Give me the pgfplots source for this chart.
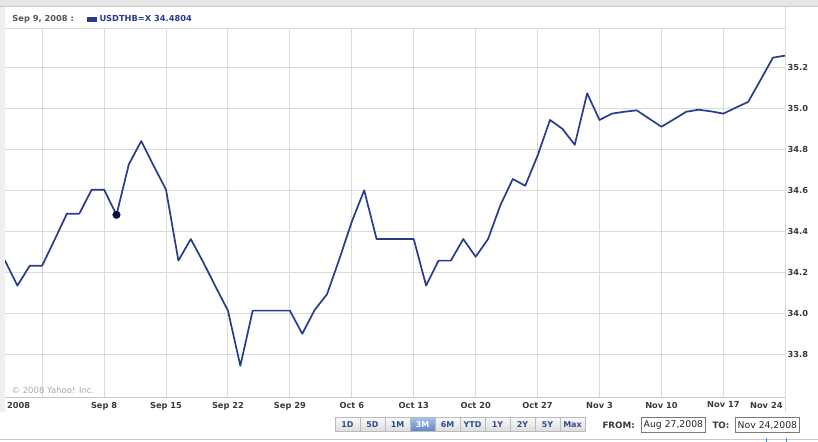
\documentclass[border=0pt]{standalone}
\usepackage{fontspec}
\setmainfont{DejaVu Sans}
\usepackage{pgfplots}
\pgfplotsset{compat=1.18}
\definecolor{linecol}{HTML}{283C8E}
\definecolor{dotcol}{HTML}{0A0A3C}
\definecolor{gridcol}{HTML}{DADADA}
\definecolor{bordcol}{HTML}{C8C8C8}
\definecolor{labcol}{HTML}{3A3A3A}
\definecolor{topgray}{HTML}{E6E6E6}
\definecolor{leftgray}{HTML}{EFEFEF}
\definecolor{copycol}{HTML}{A8A8A8}
\definecolor{headgray}{HTML}{5A5550}
\definecolor{btntext}{HTML}{2E4C8E}
\definecolor{btnborder}{HTML}{BBBBBB}
\definecolor{selTop}{HTML}{A8C2EA}
\definecolor{selBot}{HTML}{5C83C4}
\definecolor{boxborder}{HTML}{7A7A7A}
\definecolor{markblue}{HTML}{1E90FF}
\newcommand{\labfont}{\fontsize{8.3}{10}\selectfont\bfseries}
\newcommand{\btnfont}{\fontsize{8}{10}\selectfont\bfseries}
\begin{document}
\begin{tikzpicture}[x=1bp,y=1bp]
\path[use as bounding box, fill=white] (0,0) rectangle (818,442);
% top band and left strip
\fill[topgray] (0,435.3) rectangle (818,442);
\draw[bordcol, line width=0.8bp] (0,435.3) -- (818,435.3);
\fill[leftgray] (0,30.3) rectangle (5,435.3);
\begin{axis}[
  at={(5bp,45bp)}, anchor=south west,
  scale only axis, width=780.3bp, height=368.7bp,
  xmin=0, xmax=63, ymin=33.5917, ymax=35.3902,
  axis line style={draw=none},
  major tick length=0pt,
  xtick={3,8,13,18,23,28,33,38,43,48,53,58,63},
  xticklabels={,Sep 8,Sep 15,Sep 22,Sep 29,Oct 6,Oct 13,Oct 20,Oct 27,Nov 3,Nov 10,Nov 17,},
  ytick={33.8,34.0,34.2,34.4,34.6,34.8,35.0,35.2},
  yticklabel pos=right,
  yticklabel style={anchor=west, inner sep=0pt, xshift=2.2bp, font=\labfont, text=labcol,
    /pgf/number format/.cd, fixed, fixed zerofill, precision=1, assume math mode=true},
  xticklabel style={anchor=north, inner sep=0pt, yshift=-4.7bp, font=\labfont, text=labcol},
  grid=major, grid style={draw=gridcol, line width=0.9bp},
]
\addplot[linecol, line width=1.7bp, line join=round] coordinates {
(0,34.257) (1,34.135) (2,34.232) (3,34.232) (4,34.358) (5,34.486) (6,34.486) (7,34.603)
(8,34.603) (9,34.4804) (10,34.727) (11,34.840) (12,34.72) (13,34.603) (14,34.257) (15,34.362)
(16,34.25) (17,34.13) (18,34.013) (19,33.744) (20,34.013) (21,34.013) (22,34.013) (23,34.013)
(24,33.90) (25,34.016) (26,34.093) (27,34.265) (28,34.447) (29,34.60) (30,34.362) (31,34.362)
(32,34.362) (33,34.362) (34,34.135) (35,34.257) (36,34.257) (37,34.362) (38,34.276) (39,34.362)
(40,34.528) (41,34.655) (42,34.622) (43,34.769) (44,34.943) (45,34.90) (46,34.822) (47,35.073)
(48,34.943) (49,34.974) (50,34.983) (51,34.99) (52,34.95) (53,34.91) (54,34.946) (55,34.983)
(56,34.993) (57,34.985) (58,34.974) (59,35.003) (60,35.031) (61,35.138) (62,35.247) (63,35.257)
};
\addplot[only marks, mark=*, mark size=3.8bp, dotcol] coordinates {(9,34.4804)};
\end{axis}
% extra x labels
\node[anchor=north west, inner sep=0pt, font=\labfont, text=labcol] at (7,40.3) {2008};
\node[anchor=north east, inner sep=0pt, font=\labfont, text=labcol] at (782.7,40.3) {Nov 24};
% frame lines
\draw[gridcol, line width=1bp] (5,413.7) -- (785.3,413.7);
\draw[gridcol, line width=1bp] (785.3,435.3) -- (785.3,30.3);
\draw[bordcol, line width=1.5bp] (5,44.3) -- (785.3,44.3);
% copyright
\node[anchor=west, inner sep=0pt, text=copycol, font=\fontsize{8.5}{10}\selectfont] at (11.5,52) {© 2008 Yahoo! Inc.};
% header
\node[anchor=base west, inner sep=0pt, text=headgray, font=\labfont] at (12.3,420.5) {Sep 9, 2008 :};
\fill[linecol] (87.3,420.3) rectangle (96.7,425);
\node[anchor=base west, inner sep=0pt, text=linecol, font=\labfont] at (99.3,420.5) {USDTHB=X\hspace{3bp}34.4804};
% buttons
\foreach \lab [count=\k from 0] in {1D,5D,1M,3M,6M,YTD,1Y,2Y,5Y,Max} {
  \pgfmathsetmacro{\xa}{335+25*\k}
  \pgfmathsetmacro{\xb}{\xa+25}
  \ifnum\k=3
    \shade[top color=selTop, bottom color=selBot] (\xa,10.3) rectangle (\xb,24.7);
    \draw[btnborder, line width=0.8bp] (\xa,10.3) rectangle (\xb,24.7);
    \node[inner sep=0pt, text=white, font=\btnfont] at ({\xa+12.5},17.5) {\lab};
  \else
    \shade[top color=white!96!gray, bottom color=gray!28] (\xa,10.3) rectangle (\xb,24.7);
    \draw[btnborder, line width=0.8bp] (\xa,10.3) rectangle (\xb,24.7);
    \node[inner sep=0pt, text=btntext, font=\btnfont] at ({\xa+12.5},17.5) {\lab};
  \fi
}
% FROM / TO
\node[anchor=west, inner sep=0pt, text=labcol, font=\fontsize{8.8}{10}\selectfont\bfseries] at (602.3,16.3) {FROM:};
\draw[boxborder, line width=0.9bp, fill=white] (641,9.3) rectangle (705.7,24.3);
\node[inner sep=0pt, text=black!85, font=\fontsize{9.3}{10}\selectfont] at (673.4,16.6) {Aug 27,2008};
\node[anchor=west, inner sep=0pt, text=labcol, font=\fontsize{8.8}{10}\selectfont\bfseries] at (712.3,16.3) {TO:};
\draw[boxborder, line width=0.9bp, fill=white] (735,9.3) rectangle (799.7,24.3);
\node[inner sep=0pt, text=black!85, font=\fontsize{9.3}{10}\selectfont] at (767.4,16.6) {Nov 24,2008};
% bottom line and marks
\draw[bordcol, line width=1bp] (0,2.7) -- (818,2.7);
\draw[markblue, line width=0.9bp] (766.7,0) -- (766.7,4);
\draw[markblue, line width=0.9bp] (786.7,0) -- (786.7,4);
\end{tikzpicture}
\end{document}
